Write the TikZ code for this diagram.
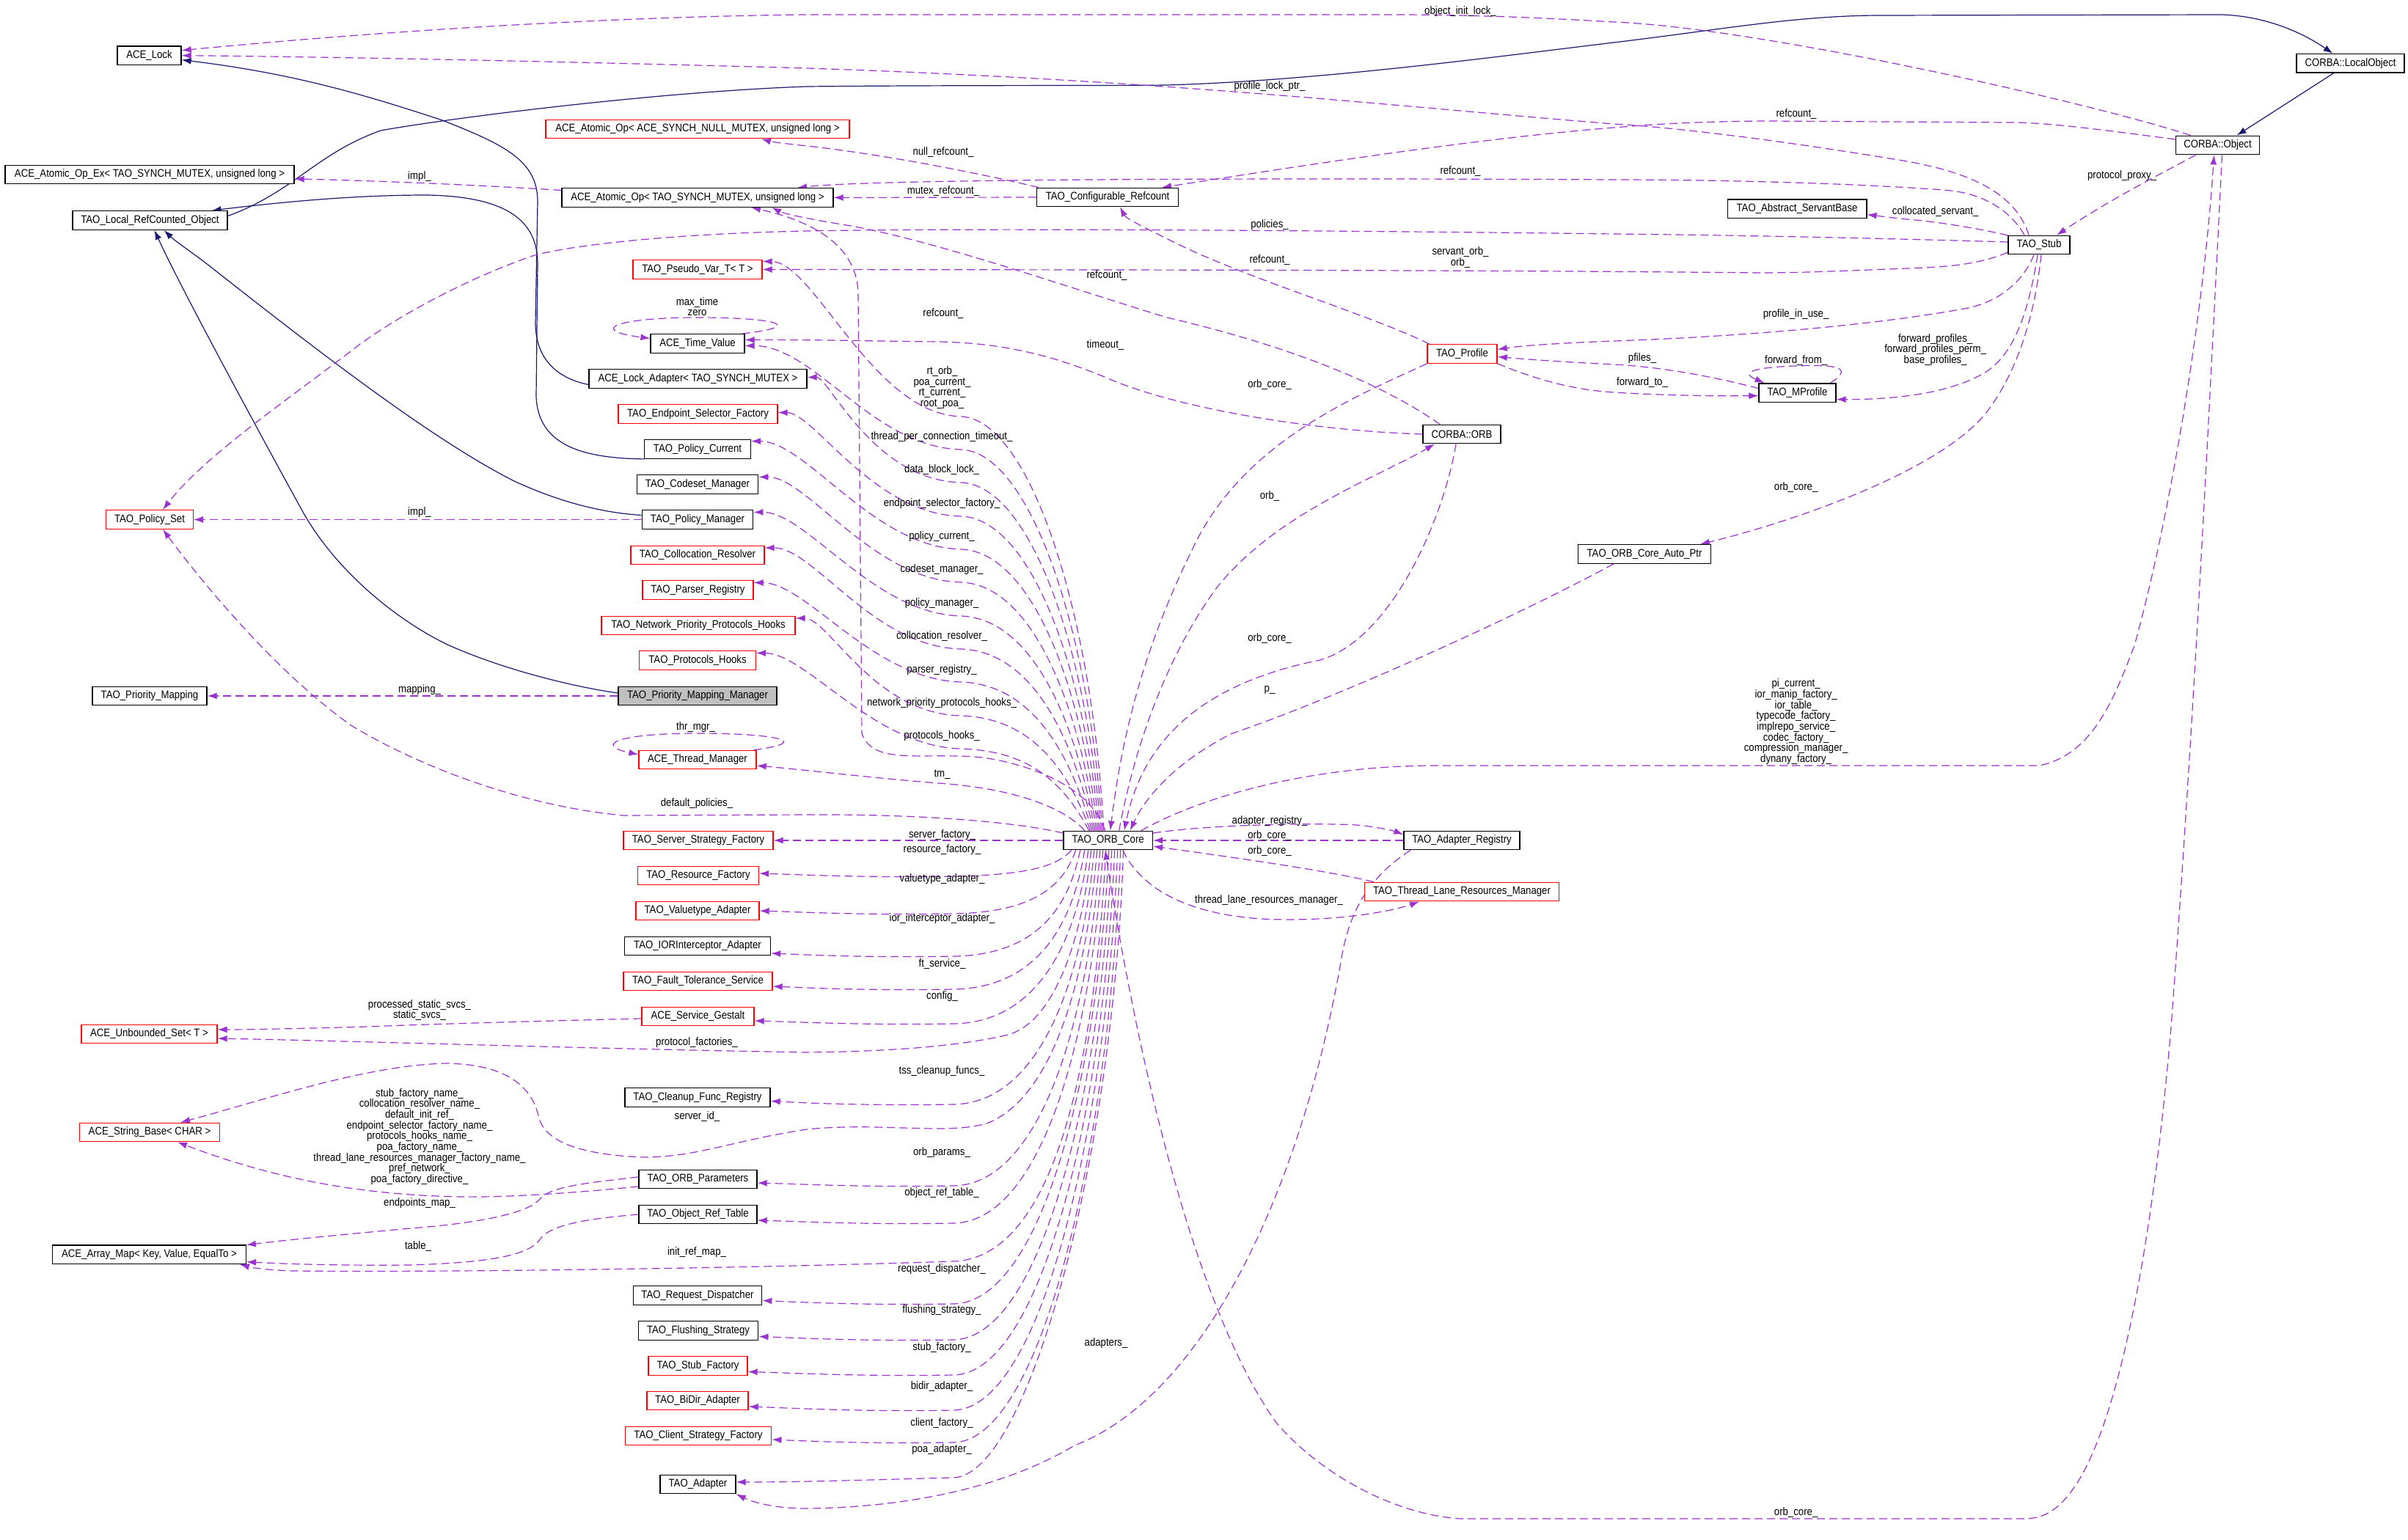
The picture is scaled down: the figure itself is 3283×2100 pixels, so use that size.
\documentclass[tikz,border=0pt]{standalone}
\usepackage{fontspec}
\newfontfamily\dfamily{Liberation Sans}[FakeStretch=0.88]
\usetikzlibrary{arrows.meta}
\definecolor{ep}{HTML}{9A32CD}
\definecolor{ib}{HTML}{191970}
\definecolor{bgray}{HTML}{BFBFBF}
\newcommand\dfont{\dfamily\fontsize{15}{14.7}\selectfont}
\pgfdeclarelayer{bglayer}
\pgfdeclarelayer{edgelayer}
\pgfsetlayers{bglayer,edgelayer,main}
\tikzset{
  cbox/.style={draw=black, line width=1.3pt, minimum height=25.5pt, inner xsep=3pt, inner ysep=0pt, fill=white, font=\dfont, text=black},
  rbox/.style={cbox, draw=red},
  gbox/.style={cbox, fill=bgray},
  lab/.style={font=\dfont, align=center, inner sep=0pt, text=black},
  uedge/.style={draw=ep, line width=1.2pt, dash pattern=on 11pt off 6pt, -{Latex[length=13pt,width=9pt]}},
  iedge/.style={draw=ib, line width=1.2pt, -{Latex[length=13pt,width=9pt]}},
}
\begin{document}
\begin{tikzpicture}[x=1pt,y=-1pt]
\begin{pgfonlayer}{bglayer}
\fill[white] (0,0) rectangle (3283,2100);
\end{pgfonlayer}
\useasboundingbox (0,0) rectangle (3283,2100);
% boxes
\node[cbox, minimum width=87pt] (acelock) at (203.5,75.7) {ACE\_Lock};
\node[cbox, minimum width=394pt] (atomicex) at (204,238) {ACE\_Atomic\_Op\_Ex< TAO\_SYNCH\_MUTEX, unsigned long >};
\node[cbox, minimum width=211pt] (localrc) at (204.5,300.5) {TAO\_Local\_RefCounted\_Object};
\node[rbox, minimum width=414pt] (atomicnull) at (951,176) {ACE\_Atomic\_Op< ACE\_SYNCH\_NULL\_MUTEX, unsigned long >};
\node[cbox, minimum width=370pt] (atomictao) at (951,269.5) {ACE\_Atomic\_Op< TAO\_SYNCH\_MUTEX, unsigned long >};
\node[rbox, minimum width=176pt] (pseudovar) at (951,367.5) {TAO\_Pseudo\_Var\_T< T >};
\node[cbox, minimum width=128pt] (timevalue) at (951,468.5) {ACE\_Time\_Value};
\node[cbox, minimum width=297pt] (lockadapter) at (951.5,516.5) {ACE\_Lock\_Adapter< TAO\_SYNCH\_MUTEX >};
\node[rbox, minimum width=217pt] (endpointsel) at (951.5,564.5) {TAO\_Endpoint\_Selector\_Factory};
\node[cbox, minimum width=144.5pt] (policycurrent) at (951,612.5) {TAO\_Policy\_Current};
\node[cbox, minimum width=165.5pt] (codeset) at (951,660.5) {TAO\_Codeset\_Manager};
\node[rbox, minimum width=118.5pt] (policyset) at (204,708.5) {TAO\_Policy\_Set};
\node[cbox, minimum width=151.5pt] (policymgr) at (951,708.5) {TAO\_Policy\_Manager};
\node[rbox, minimum width=182pt] (collocation) at (951,757) {TAO\_Collocation\_Resolver};
\node[rbox, minimum width=151pt] (parser) at (951.5,804.5) {TAO\_Parser\_Registry};
\node[rbox, minimum width=264pt] (netprio) at (952,853) {TAO\_Network\_Priority\_Protocols\_Hooks};
\node[rbox, minimum width=158.5pt] (protohooks) at (951,900.5) {TAO\_Protocols\_Hooks};
\node[gbox, minimum width=216pt] (primapmgr) at (951,949) {TAO\_Priority\_Mapping\_Manager};
\node[cbox, minimum width=156pt] (primap) at (204,949) {TAO\_Priority\_Mapping};
\node[rbox, minimum width=160pt] (threadmgr) at (951,1036) {ACE\_Thread\_Manager};
\node[rbox, minimum width=204pt] (serverstrat) at (952,1146) {TAO\_Server\_Strategy\_Factory};
\node[rbox, minimum width=165pt] (resource) at (952,1194) {TAO\_Resource\_Factory};
\node[rbox, minimum width=168pt] (valuetype) at (951,1242) {TAO\_Valuetype\_Adapter};
\node[cbox, minimum width=199pt] (iorint) at (951,1290) {TAO\_IORInterceptor\_Adapter};
\node[rbox, minimum width=203pt] (ftservice) at (951.5,1338) {TAO\_Fault\_Tolerance\_Service};
\node[rbox, minimum width=153pt] (gestalt) at (951.5,1386) {ACE\_Service\_Gestalt};
\node[rbox, minimum width=185pt] (unbounded) at (203.5,1410) {ACE\_Unbounded\_Set< T >};
\node[cbox, minimum width=198pt] (cleanup) at (951,1496.5) {TAO\_Cleanup\_Func\_Registry};
\node[rbox, minimum width=191.5pt] (stringbase) at (204,1544) {ACE\_String\_Base< CHAR >};
\node[cbox, minimum width=161pt] (orbparams) at (951.5,1608) {TAO\_ORB\_Parameters};
\node[cbox, minimum width=161pt] (objreftable) at (951.5,1656) {TAO\_Object\_Ref\_Table};
\node[cbox, minimum width=263.5pt] (arraymap) at (203.5,1710.7) {ACE\_Array\_Map< Key, Value, EqualTo >};
\node[cbox, minimum width=175.5pt] (reqdisp) at (951,1766.5) {TAO\_Request\_Dispatcher};
\node[cbox, minimum width=163.5pt] (flushing) at (952,1814.5) {TAO\_Flushing\_Strategy};
\node[rbox, minimum width=135pt] (stubfactory) at (951.5,1862.5) {TAO\_Stub\_Factory};
\node[rbox, minimum width=138pt] (bidir) at (951,1910) {TAO\_BiDir\_Adapter};
\node[rbox, minimum width=199.5pt] (clientstrat) at (952,1958) {TAO\_Client\_Strategy\_Factory};
\node[cbox, minimum width=103pt] (adapter) at (951.5,2024) {TAO\_Adapter};
\node[cbox, minimum width=192.5pt] (configrc) at (1510,269) {TAO\_Configurable\_Refcount};
\node[rbox, minimum width=95pt] (profile) at (1993.5,482.5) {TAO\_Profile};
\node[cbox, minimum width=106pt] (corbaorb) at (1993,592) {CORBA::ORB};
\node[cbox, minimum width=121.4pt] (orbcore) at (1510.7,1146) {TAO\_ORB\_Core};
\node[cbox, minimum width=158pt] (adapterreg) at (1993,1146) {TAO\_Adapter\_Registry};
\node[rbox, minimum width=265.5pt] (tlrm) at (1993,1216) {TAO\_Thread\_Lane\_Resources\_Manager};
\node[cbox, minimum width=181pt] (autoptr) at (2242,755.5) {TAO\_ORB\_Core\_Auto\_Ptr};
\node[cbox, minimum width=147pt] (localobj) at (3204.5,86.4) {CORBA::LocalObject};
\node[cbox, minimum width=114.6pt] (corbaobj) at (3023.5,198) {CORBA::Object};
\node[cbox, minimum width=189.7pt] (servantbase) at (2450,284.7) {TAO\_Abstract\_ServantBase};
\node[cbox, minimum width=84pt] (stub) at (2780,334) {TAO\_Stub};
\node[cbox, minimum width=105pt] (mprofile) at (2450.5,535.6) {TAO\_MProfile};
% labels
\node[lab] (t01) at (1991,15.6) {object\_init\_lock\_};
\node[lab] (t02) at (1731,118) {profile\_lock\_ptr\_};
\node[lab] (t03) at (2449,156) {refcount\_};
\node[lab] (t04) at (1286,207.6) {null\_refcount\_};
\node[lab] (t05) at (1991,234) {refcount\_};
\node[lab] (t06) at (2893,240) {protocol\_proxy\_};
\node[lab] (t07) at (572,241) {impl\_};
\node[lab] (t08) at (1286,260.7) {mutex\_refcount\_};
\node[lab] (t09) at (2638.6,289) {collocated\_servant\_};
\node[lab] (t10) at (1731,306.7) {policies\_};
\node[lab] (t11) at (1991,351.3) {servant\_orb\_\\orb\_};
\node[lab] (t12) at (1731,355) {refcount\_};
\node[lab] (t13) at (1509,376) {refcount\_};
\node[lab] (t14) at (950.5,418) {max\_time\\zero};
\node[lab] (t15) at (1286,427.7) {refcount\_};
\node[lab] (t16) at (2448.6,428.6) {profile\_in\_use\_};
\node[lab] (t17) at (2638.6,477.1) {forward\_profiles\_\\forward\_profiles\_perm\_\\base\_profiles\_};
\node[lab] (t18) at (1507,471) {timeout\_};
\node[lab] (t19) at (2239,489) {pfiles\_};
\node[lab] (t20) at (2448.6,491.5) {forward\_from\_};
\node[lab] (t21) at (2239,522) {forward\_to\_};
\node[lab] (t22) at (1284.5,528.6) {rt\_orb\_\\poa\_current\_\\rt\_current\_\\root\_poa\_};
\node[lab] (t23) at (1731,524.5) {orb\_core\_};
\node[lab] (t24) at (1284,596) {thread\_per\_connection\_timeout\_};
\node[lab] (t25) at (1284,640.6) {data\_block\_lock\_};
\node[lab] (t26) at (2448.6,665) {orb\_core\_};
\node[lab] (t27) at (1731,677) {orb\_};
\node[lab] (t28) at (1284,686.6) {endpoint\_selector\_factory\_};
\node[lab] (t29) at (572,699) {impl\_};
\node[lab] (t30) at (1284,732) {policy\_current\_};
\node[lab] (t31) at (1284,777) {codeset\_manager\_};
\node[lab] (t32) at (1284,823) {policy\_manager\_};
\node[lab] (t33) at (1284,868) {collocation\_resolver\_};
\node[lab] (t34) at (1731,870.5) {orb\_core\_};
\node[lab] (t35) at (1284,913.4) {parser\_registry\_};
\node[lab] (t36) at (2448.6,984.2) {pi\_current\_\\ior\_manip\_factory\_\\ior\_table\_\\typecode\_factory\_\\implrepo\_service\_\\codec\_factory\_\\compression\_manager\_\\dynany\_factory\_};
\node[lab] (t37) at (572,941) {mapping\_};
\node[lab] (t38) at (1731,941) {p\_};
\node[lab] (t39) at (1284,959) {network\_priority\_protocols\_hooks\_};
\node[lab] (t40) at (948.5,991.5) {thr\_mgr\_};
\node[lab] (t41) at (1284,1004) {protocols\_hooks\_};
\node[lab] (t42) at (1284.5,1056) {tm\_};
\node[lab] (t43) at (950,1095.5) {default\_policies\_};
\node[lab] (t44) at (1731,1119.6) {adapter\_registry\_};
\node[lab] (t45) at (1284.5,1139) {server\_factory\_};
\node[lab] (t46) at (1731,1139.7) {orb\_core\_};
\node[lab] (t47) at (1284.5,1159) {resource\_factory\_};
\node[lab] (t48) at (1731,1160.7) {orb\_core\_};
\node[lab] (t49) at (1284.5,1198.6) {valuetype\_adapter\_};
\node[lab] (t50) at (1730,1228) {thread\_lane\_resources\_manager\_};
\node[lab] (t51) at (1284.5,1252.7) {ior\_interceptor\_adapter\_};
\node[lab] (t52) at (1284.5,1314.7) {ft\_service\_};
\node[lab] (t53) at (1284.5,1359) {config\_};
\node[lab] (t54) at (572,1377.5) {processed\_static\_svcs\_\\static\_svcs\_};
\node[lab] (t55) at (950,1422) {protocol\_factories\_};
\node[lab] (t56) at (1284,1460.7) {tss\_cleanup\_funcs\_};
\node[lab] (t57) at (572,1550) {stub\_factory\_name\_\\collocation\_resolver\_name\_\\default\_init\_ref\_\\endpoint\_selector\_factory\_name\_\\protocols\_hooks\_name\_\\poa\_factory\_name\_\\thread\_lane\_resources\_manager\_factory\_name\_\\pref\_network\_\\poa\_factory\_directive\_};
\node[lab] (t58) at (950.5,1523) {server\_id\_};
\node[lab] (t59) at (1284,1572) {orb\_params\_};
\node[lab] (t60) at (1284,1626.8) {object\_ref\_table\_};
\node[lab] (t61) at (572,1641) {endpoints\_map\_};
\node[lab] (t62) at (570,1700) {table\_};
\node[lab] (t63) at (950,1707.6) {init\_ref\_map\_};
\node[lab] (t64) at (1284,1730.8) {request\_dispatcher\_};
\node[lab] (t65) at (1284,1786.6) {flushing\_strategy\_};
\node[lab] (t66) at (1508,1831.7) {adapters\_};
\node[lab] (t67) at (1284,1838) {stub\_factory\_};
\node[lab] (t68) at (1284,1890.6) {bidir\_adapter\_};
\node[lab] (t69) at (1284,1940.6) {client\_factory\_};
\node[lab] (t70) at (1284,1976.8) {poa\_adapter\_};
\node[lab] (t71) at (2448.6,2062.5) {orb\_core\_};
\begin{pgfonlayer}{edgelayer}
% inheritance
\draw[iedge] ([yshift=6pt]localrc.east) .. controls (400,262) and (430,210) .. (519,178) .. controls (620,160) and (900,125) .. (1100,118) .. controls (1300,116) and (1500,117) .. (1591,116) .. controls (1800,110) and (2050,76) .. (2200,58) .. controls (2350,40) and (2450,21) .. (2566,21) -- (3029,20) .. controls (3090,22) and (3140,45) .. ([xshift=-24pt]localobj.north);
\draw[iedge] ([xshift=-23pt]localobj.south) -- ([xshift=26pt]corbaobj.north);
\draw[iedge] (policycurrent.south west) .. controls (800,625) and (733,610) .. (731,540) -- (733,360) .. controls (733,300) and (690,268) .. (582,266) .. controls (480,266) and (380,276) .. ([xshift=84pt]localrc.north);
\draw[iedge] ([yshift=6pt]policymgr.west) .. controls (830,700) and (770,688) .. (701,656) .. controls (600,605) and (460,500) .. (295,370) .. controls (265,346) and (240,330) .. ([xshift=19pt]localrc.south);
\draw[iedge] ([yshift=4pt]primapmgr.west) .. controls (790,938) and (690,915) .. (610,879) .. controls (540,845) and (460,780) .. (414,700) .. controls (370,620) and (250,400) .. ([xshift=6pt]localrc.south);
\draw[iedge] ([yshift=-8pt]lockadapter.west) .. controls (760,516) and (730,490) .. (730,440) -- (733,275) .. controls (733,220) and (690,198) .. (603,164) .. controls (500,130) and (400,100) .. ([yshift=-6pt]acelock.east);
% top area
\draw[uedge] ([xshift=-37pt]corbaobj.north) .. controls (2850,140) and (2400,38) .. (2200,30) .. controls (2100,24) and (2000,20) .. (1900,20) -- (1100,20) .. controls (900,22) and (600,35) .. ([yshift=7pt]acelock.east);
\draw[uedge] ([xshift=-14pt]stub.north) .. controls (2750,270) and (2700,238) .. (2600,220) .. controls (2450,195) and (2300,175) .. (2200,169) .. controls (1900,145) and (1600,110) .. (1100,93) .. controls (700,82) and (400,77) .. (acelock.east);
\draw[uedge] ([yshift=8pt]corbaobj.west) .. controls (2850,175) and (2790,167) .. (2739,167) -- (2407,165) .. controls (2300,166) and (2250,170) .. (2200,174) .. controls (2000,190) and (1750,230) .. ([xshift=74pt]configrc.north);
\draw[uedge] ([xshift=-94pt]configrc.north) .. controls (1330,235) and (1200,210) .. (1100,199) .. controls (1070,196) and (1050,193) .. ([xshift=87pt]atomicnull.south);
\draw[uedge] (configrc.west) -- (atomictao.east);
\draw[uedge] ([xshift=-20pt]stub.north) .. controls (2740,285) and (2700,262) .. (2649,259) .. controls (2500,248) and (2300,245) .. (2200,245) .. controls (1800,243) and (1200,243) .. ([xshift=136pt]atomictao.north);
\draw[uedge] ([yshift=10pt]atomictao.west) .. controls (650,252) and (500,246) .. ([yshift=-6pt]atomicex.east);
\draw[uedge] ([xshift=-30pt]corbaorb.north) .. controls (1880,520) and (1750,470) .. (1591,433) .. controls (1450,390) and (1280,330) .. (1160,308) .. controls (1110,300) and (1070,292) .. ([xshift=101pt]atomictao.south);
\draw[uedge] ([xshift=-4pt]orbcore.north) .. controls (1490,1080) and (1420,1045) .. (1340,1033) .. controls (1260,1025) and (1190,1045) .. (1175,1000) -- (1170,400) .. controls (1168,330) and (1100,300) .. ([xshift=73pt]atomictao.south);
\draw[uedge] ([yshift=4pt]stub.west) .. controls (2600,326) and (2400,321) .. (2200,319) .. controls (1800,314) and (1300,311) .. (1100,315) .. controls (950,318) and (800,330) .. (729,348) .. controls (650,375) and (560,420) .. (491,469) .. controls (400,540) and (280,620) .. ([xshift=18pt]policyset.north);
\draw[uedge] ([yshift=-10pt]stub.west) .. controls (2700,360) and (2660,364) .. (2600,366) .. controls (2500,370) and (2450,372) .. (2400,372) .. controls (2000,368) and (1500,368) .. (pseudovar.east);
\draw[uedge] ([yshift=13pt]stub.west) .. controls (2700,312) and (2640,302) .. (2600,299) .. controls (2580,297) and (2565,295) .. ([yshift=-8pt]servantbase.east);
\draw[uedge] ([xshift=-30pt]corbaobj.south) .. controls (2950,235) and (2880,270) .. ([xshift=24pt]stub.north);
\draw[uedge] ([xshift=-7pt]stub.south) .. controls (2760,380) and (2730,410) .. (2683,420) .. controls (2550,445) and (2350,460) .. (2200,465) .. controls (2120,468) and (2070,472) .. ([yshift=6pt]profile.east);
\draw[uedge] ([xshift=-2pt]stub.south) .. controls (2765,430) and (2745,480) .. (2711,505) .. controls (2670,532) and (2600,545) .. ([yshift=-9pt]mprofile.east);
\draw[uedge] ([xshift=3pt]stub.south) .. controls (2775,420) and (2755,500) .. (2710,560) .. controls (2650,640) and (2450,710) .. ([xshift=76pt]autoptr.north);
\draw[uedge] ([yshift=6pt]mprofile.west) .. controls (2330,512) and (2260,500) .. (2200,497) .. controls (2120,493) and (2070,489) .. ([yshift=-4pt]profile.east);
\draw[uedge] (profile.south east) .. controls (2100,520) and (2150,532) .. (2200,535) .. controls (2280,540) and (2350,540) .. ([yshift=-4pt]mprofile.west);
\draw[uedge] ([xshift=45pt]mprofile.north) .. controls (2530,500) and (2500,497) .. (2448,499) .. controls (2390,501) and (2372,508) .. ([xshift=-45pt]mprofile.north);
\draw[uedge] ([xshift=-45pt]profile.north) .. controls (1870,430) and (1700,380) .. (1600,330) .. controls (1560,310) and (1535,298) .. ([xshift=17pt]configrc.south);
\draw[uedge] (profile.south west) .. controls (1850,540) and (1700,600) .. (1630,740) .. controls (1560,880) and (1530,1000) .. ([xshift=3pt]orbcore.north);
\draw[uedge] (corbaorb.west) .. controls (1800,588) and (1620,560) .. (1520,520) .. controls (1450,490) and (1380,468) .. (1280,466) .. controls (1180,465) and (1100,463) .. ([yshift=5pt]timevalue.east);
\draw[uedge] ([xshift=15pt]orbcore.north) .. controls (1550,1000) and (1600,880) .. (1660,800) .. controls (1740,700) and (1880,650) .. ([xshift=-37pt]corbaorb.south);
\draw[uedge] ([xshift=-8pt]corbaorb.south) .. controls (1970,700) and (1900,870) .. (1800,900) .. controls (1650,930) and (1560,1000) .. ([xshift=22pt]orbcore.north);
\draw[uedge] ([xshift=-42pt]autoptr.south) .. controls (2050,850) and (1800,960) .. (1680,1000) .. controls (1600,1040) and (1560,1090) .. ([xshift=30pt]orbcore.north);
\draw[uedge] ([xshift=45pt]orbcore.north) .. controls (1650,1080) and (1800,1045) .. (1950,1044) -- (2780,1044) .. controls (2850,1030) and (2880,960) .. (2910,880) .. controls (2960,700) and (3005,420) .. ([xshift=-5pt]corbaobj.south);
\draw[uedge] ([xshift=6pt]corbaobj.south) .. controls (3010,600) and (2990,1000) .. (2960,1400) .. controls (2930,1750) and (2880,1950) .. (2830,2025) .. controls (2810,2055) and (2790,2071) .. (2760,2071) -- (1991,2071) .. controls (1900,2065) and (1800,2010) .. (1740,1940) .. controls (1640,1800) and (1560,1500) .. ([xshift=-4pt]orbcore.south);
\draw[uedge] ([xshift=-70pt]adapterreg.south) .. controls (1860,1200) and (1840,1250) .. (1830,1300) .. controls (1780,1600) and (1650,1900) .. (1465,1971) .. controls (1350,2040) and (1200,2056) .. (1100,2057) .. controls (1060,2057) and (1030,2050) .. (adapter.south east);
\draw[uedge] ([yshift=10pt]orbcore.east) .. controls (1650,1124) and (1800,1122) .. (1850,1125) .. controls (1880,1128) and (1900,1133) .. ([yshift=8pt]adapterreg.west);
\draw[uedge] (adapterreg.west) -- (orbcore.east);
\draw[uedge] ([xshift=-120pt]tlrm.north) .. controls (1800,1185) and (1650,1165) .. ([yshift=-8pt]orbcore.east);
\draw[uedge] ([xshift=20pt]orbcore.south) .. controls (1550,1200) and (1600,1245) .. (1720,1253) .. controls (1820,1258) and (1900,1242) .. ([xshift=-58pt]tlrm.south);
% left side
\draw[uedge] (primapmgr.west) -- (primap.east);
\draw[uedge] (policymgr.west) -- (policyset.east);
\draw[uedge] ([yshift=-3pt]gestalt.west) .. controls (750,1392) and (600,1396) .. (500,1400) .. controls (400,1403) and (330,1404) .. ([yshift=6pt]unbounded.east);
\draw[uedge] ([yshift=10pt]orbcore.west) .. controls (1380,1120) and (1250,1110) .. (1100,1111) -- (850,1112) .. controls (720,1100) and (580,1050) .. (480,990) .. controls (380,920) and (280,800) .. ([xshift=18pt]policyset.south);
\draw[uedge] ([xshift=-4pt]timevalue.north east) .. controls (1100,445) and (1060,433) .. (951,433) .. controls (840,433) and (800,450) .. ([yshift=7pt]timevalue.west);
\draw[uedge] ([xshift=-4pt]threadmgr.north east) .. controls (1110,1012) and (1060,1000) .. (951,1000) .. controls (840,1000) and (810,1016) .. ([yshift=7pt]threadmgr.west);
\draw[uedge] ([yshift=3pt]orbparams.west) .. controls (800,1613) and (750,1618) .. (736,1635) .. controls (720,1655) and (650,1668) .. (560,1675) .. controls (450,1685) and (380,1692) .. ([yshift=13pt]arraymap.east);
\draw[uedge] ([yshift=-10pt]orbparams.west) .. controls (800,1625) and (700,1633) .. (631,1632) .. controls (500,1630) and (380,1610) .. ([xshift=38pt]stringbase.south);
\draw[uedge] (objreftable.west) .. controls (800,1662) and (750,1670) .. (736,1690) .. controls (720,1715) and (650,1722) .. (560,1725) .. controls (450,1726) and (380,1723) .. ([yshift=-10pt]arraymap.east);
% ORB core top group
\draw[uedge] ([xshift=-6pt]orbcore.north) .. controls (1490,842) and (1405,571) .. (1310,568) .. controls (1190,565) and (1110,357) .. ([yshift=11pt]pseudovar.east);
\draw[uedge] ([xshift=-8pt]orbcore.north) .. controls (1486,864) and (1405,616) .. (1310,613) .. controls (1190,610) and (1110,471) .. ([yshift=-3pt]timevalue.east);
\draw[uedge] ([xshift=-10pt]orbcore.north) .. controls (1482,887) and (1405,661) .. (1310,658) .. controls (1190,655) and (1130,514) .. ([yshift=2pt]lockadapter.east);
\draw[uedge] ([xshift=-12pt]orbcore.north) .. controls (1478,910) and (1405,707) .. (1310,704) .. controls (1190,701) and (1110,563) .. ([yshift=2pt]endpointsel.east);
\draw[uedge] ([xshift=-14pt]orbcore.north) .. controls (1474,932) and (1405,752) .. (1310,749) .. controls (1190,746) and (1100,602) .. ([yshift=11pt]policycurrent.east);
\draw[uedge] ([xshift=-16pt]orbcore.north) .. controls (1470,955) and (1405,797) .. (1310,794) .. controls (1190,791) and (1100,650) .. ([yshift=10pt]codeset.east);
\draw[uedge] ([xshift=-18pt]orbcore.north) .. controls (1466,978) and (1405,843) .. (1310,840) .. controls (1190,837) and (1100,698) .. ([yshift=10pt]policymgr.east);
\draw[uedge] ([xshift=-20pt]orbcore.north) .. controls (1462,1000) and (1405,888) .. (1310,885) .. controls (1190,882) and (1110,747) .. ([yshift=10pt]collocation.east);
\draw[uedge] ([xshift=-22pt]orbcore.north) .. controls (1458,1023) and (1405,933) .. (1310,930) .. controls (1190,927) and (1100,795) .. ([yshift=10pt]parser.east);
\draw[uedge] ([xshift=-24pt]orbcore.north) .. controls (1454,1046) and (1405,979) .. (1310,976) .. controls (1190,973) and (1130,843) .. ([yshift=10pt]netprio.east);
\draw[uedge] ([xshift=-26pt]orbcore.north) .. controls (1450,1068) and (1405,1024) .. (1310,1021) .. controls (1190,1018) and (1100,891) .. ([yshift=10pt]protohooks.east);
\draw[uedge] ([xshift=-32pt]orbcore.north) .. controls (1450,1100) and (1380,1075) .. (1280,1068) .. controls (1180,1060) and (1100,1050) .. ([yshift=-8pt]threadmgr.east);
% ORB core bottom group
\draw[uedge] (orbcore.west) -- (serverstrat.east);
\draw[uedge] ([xshift=-50pt]orbcore.south) .. controls (1446,1175) and (1420,1193) .. (1300,1195) .. controls (1180,1197) and (1100,1193) .. ([yshift=3pt]resource.east);
\draw[uedge] ([xshift=-44pt]orbcore.south) .. controls (1452,1200) and (1420,1244) .. (1300,1246) .. controls (1180,1248) and (1100,1244) .. (valuetype.east);
\draw[uedge] ([xshift=-38pt]orbcore.south) .. controls (1458,1230) and (1420,1302) .. (1300,1304) .. controls (1180,1306) and (1100,1302) .. ([yshift=-10pt]iorint.east);
\draw[uedge] ([xshift=-32pt]orbcore.south) .. controls (1464,1252) and (1420,1347) .. (1300,1349) .. controls (1180,1351) and (1100,1347) .. ([yshift=-7pt]ftservice.east);
\draw[uedge] ([xshift=-27pt]orbcore.south) .. controls (1469,1275) and (1420,1394) .. (1300,1396) .. controls (1180,1398) and (1100,1394) .. ([yshift=-6pt]gestalt.east);
\draw[uedge] ([xshift=-23pt]orbcore.south) .. controls (1473,1300) and (1430,1400) .. (1370,1412) .. controls (1300,1428) and (1200,1434) .. (1100,1435) .. controls (800,1430) and (500,1420) .. ([yshift=-6pt]unbounded.east);
\draw[uedge] ([xshift=-19pt]orbcore.south) .. controls (1477,1330) and (1420,1504) .. (1300,1506) .. controls (1180,1508) and (1100,1504) .. ([yshift=-5pt]cleanup.east);
\draw[uedge] ([xshift=-15pt]orbcore.south) .. controls (1480,1350) and (1430,1500) .. (1345,1532) .. controls (1290,1548) and (1200,1530) .. (1100,1540) .. controls (1000,1555) and (950,1578) .. (877,1578) .. controls (800,1575) and (745,1560) .. (735,1525) .. controls (725,1480) and (690,1452) .. (610,1450) .. controls (500,1452) and (360,1500) .. ([xshift=42pt]stringbase.north);
\draw[uedge] ([xshift=-11pt]orbcore.south) .. controls (1485,1385) and (1420,1615) .. (1300,1617) .. controls (1180,1619) and (1100,1615) .. ([yshift=-5pt]orbparams.east);
\draw[uedge] ([xshift=-7pt]orbcore.south) .. controls (1489,1411) and (1420,1666) .. (1300,1668) .. controls (1180,1670) and (1100,1666) .. ([yshift=-8pt]objreftable.east);
\draw[uedge] ([xshift=-3pt]orbcore.south) .. controls (1493,1440) and (1440,1715) .. (1300,1720) .. controls (1000,1730) and (600,1735) .. (400,1733) .. controls (365,1732) and (345,1729) .. ([xshift=-9pt]arraymap.south east);
\draw[uedge] ([xshift=1pt]orbcore.south) .. controls (1497,1463) and (1420,1776) .. (1300,1778) .. controls (1180,1780) and (1100,1776) .. ([yshift=-7pt]reqdisp.east);
\draw[uedge] ([xshift=5pt]orbcore.south) .. controls (1501,1487) and (1420,1825) .. (1300,1827) .. controls (1180,1829) and (1100,1825) .. ([yshift=-8pt]flushing.east);
\draw[uedge] ([xshift=9pt]orbcore.south) .. controls (1505,1511) and (1420,1873) .. (1300,1875) .. controls (1180,1877) and (1100,1873) .. ([yshift=-8pt]stubfactory.east);
\draw[uedge] ([xshift=13pt]orbcore.south) .. controls (1509,1535) and (1420,1921) .. (1300,1923) .. controls (1180,1925) and (1100,1921) .. ([yshift=-8pt]bidir.east);
\draw[uedge] ([xshift=17pt]orbcore.south) .. controls (1513,1560) and (1420,1965) .. (1300,1967) .. controls (1180,1969) and (1100,1965) .. ([yshift=-5pt]clientstrat.east);
\draw[uedge] ([xshift=21pt]orbcore.south) .. controls (1517,1590) and (1400,2012) .. (1300,2015) .. controls (1180,2018) and (1100,2021) .. ([yshift=3pt]adapter.east);
\end{pgfonlayer}
\end{tikzpicture}
\end{document}
